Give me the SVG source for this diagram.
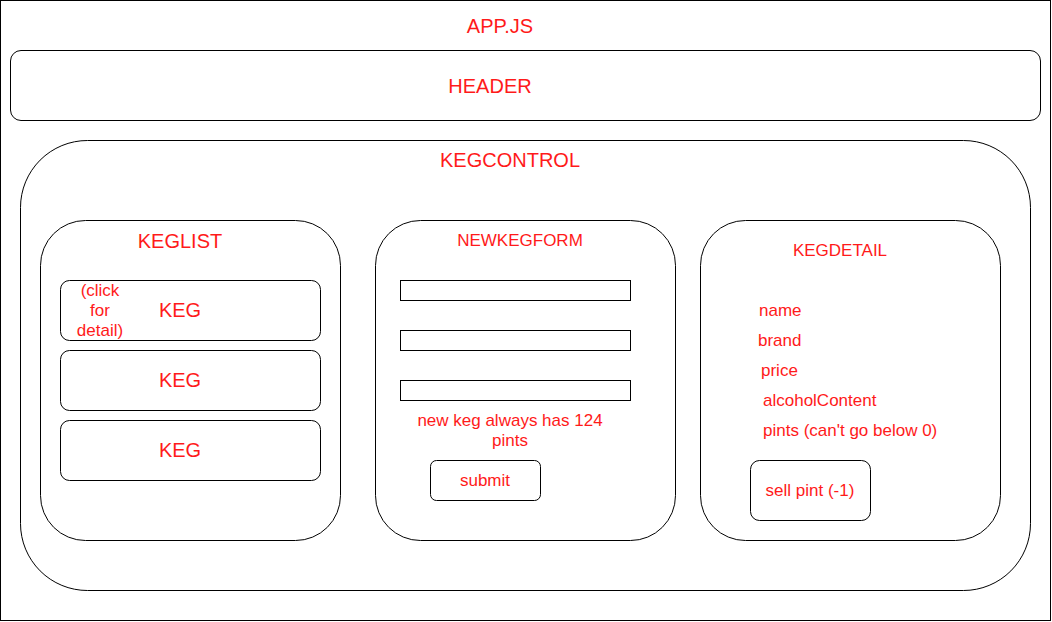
<svg xmlns="http://www.w3.org/2000/svg" width="1052" height="622" viewBox="0 0 1052 622">
<style>
.box{fill:#fff;stroke:#000;stroke-width:1}
.t{fill:#ff1a1a;font-family:"Liberation Sans",Arial,sans-serif;text-anchor:middle}
.l{font-size:20px}
.m{font-size:17px}
.st{text-anchor:start}
</style>
<rect width="1052" height="622" fill="#fff"/>
<g id="app">
<rect class="box" x="0.5" y="0.5" width="1050" height="620"/>
<text class="t l" x="500" y="33">APP.JS</text>
</g>
<g id="header">
<rect class="box" x="10.5" y="50.5" width="1030" height="70" rx="10.5"/>
<text class="t l" x="490" y="93">HEADER</text>
</g>
<g id="kegcontrol">
<rect class="box" x="20.5" y="140.5" width="1010" height="450" rx="67"/>
<text class="t l" x="510" y="167">KEGCONTROL</text>
</g>
<g id="keglist">
<rect class="box" x="40.5" y="220.5" width="300" height="320" rx="45"/>
<text class="t l" x="180" y="248">KEGLIST</text>
</g>
<g id="keg1">
<rect class="box" x="60.5" y="280.5" width="260" height="60" rx="9"/>
<text class="t l" x="180" y="317">KEG</text>
<text class="t m" x="100" y="296">(click</text>
<text class="t m" x="100" y="316">for</text>
<text class="t m" x="100" y="336">detail)</text>
</g>
<g id="keg2">
<rect class="box" x="60.5" y="350.5" width="260" height="60" rx="9"/>
<text class="t l" x="180" y="387">KEG</text>
</g>
<g id="keg3">
<rect class="box" x="60.5" y="420.5" width="260" height="60" rx="9"/>
<text class="t l" x="180" y="457">KEG</text>
</g>
<g id="newkegform">
<rect class="box" x="375.5" y="220.5" width="300" height="320" rx="45"/>
<text class="t m" x="520" y="246">NEWKEGFORM</text>
</g>
<g id="input1"><rect class="box" x="400.5" y="280.5" width="230" height="20"/></g>
<g id="input2"><rect class="box" x="400.5" y="330.5" width="230" height="20"/></g>
<g id="input3"><rect class="box" x="400.5" y="380.5" width="230" height="20"/></g>
<g id="note">
<text class="t m" x="510" y="426">new keg always has 124</text>
<text class="t m" x="510" y="446">pints</text>
</g>
<g id="submit">
<rect class="box" x="430.5" y="460.5" width="110" height="40" rx="6"/>
<text class="t m" x="485" y="486">submit</text>
</g>
<g id="kegdetail">
<rect class="box" x="700.5" y="220.5" width="300" height="320" rx="45"/>
<text class="t m" x="840" y="256">KEGDETAIL</text>
<text class="t m st" x="759" y="316">name</text>
<text class="t m st" x="758" y="346">brand</text>
<text class="t m st" x="761" y="376">price</text>
<text class="t m st" x="763" y="406">alcoholContent</text>
<text class="t m st" x="763" y="436">pints (can't go below 0)</text>
</g>
<g id="sellpint">
<rect class="box" x="750.5" y="460.5" width="120" height="60" rx="9"/>
<text class="t m" x="810" y="496">sell pint (-1)</text>
</g>
<g id="connectors"></g>
</svg>
